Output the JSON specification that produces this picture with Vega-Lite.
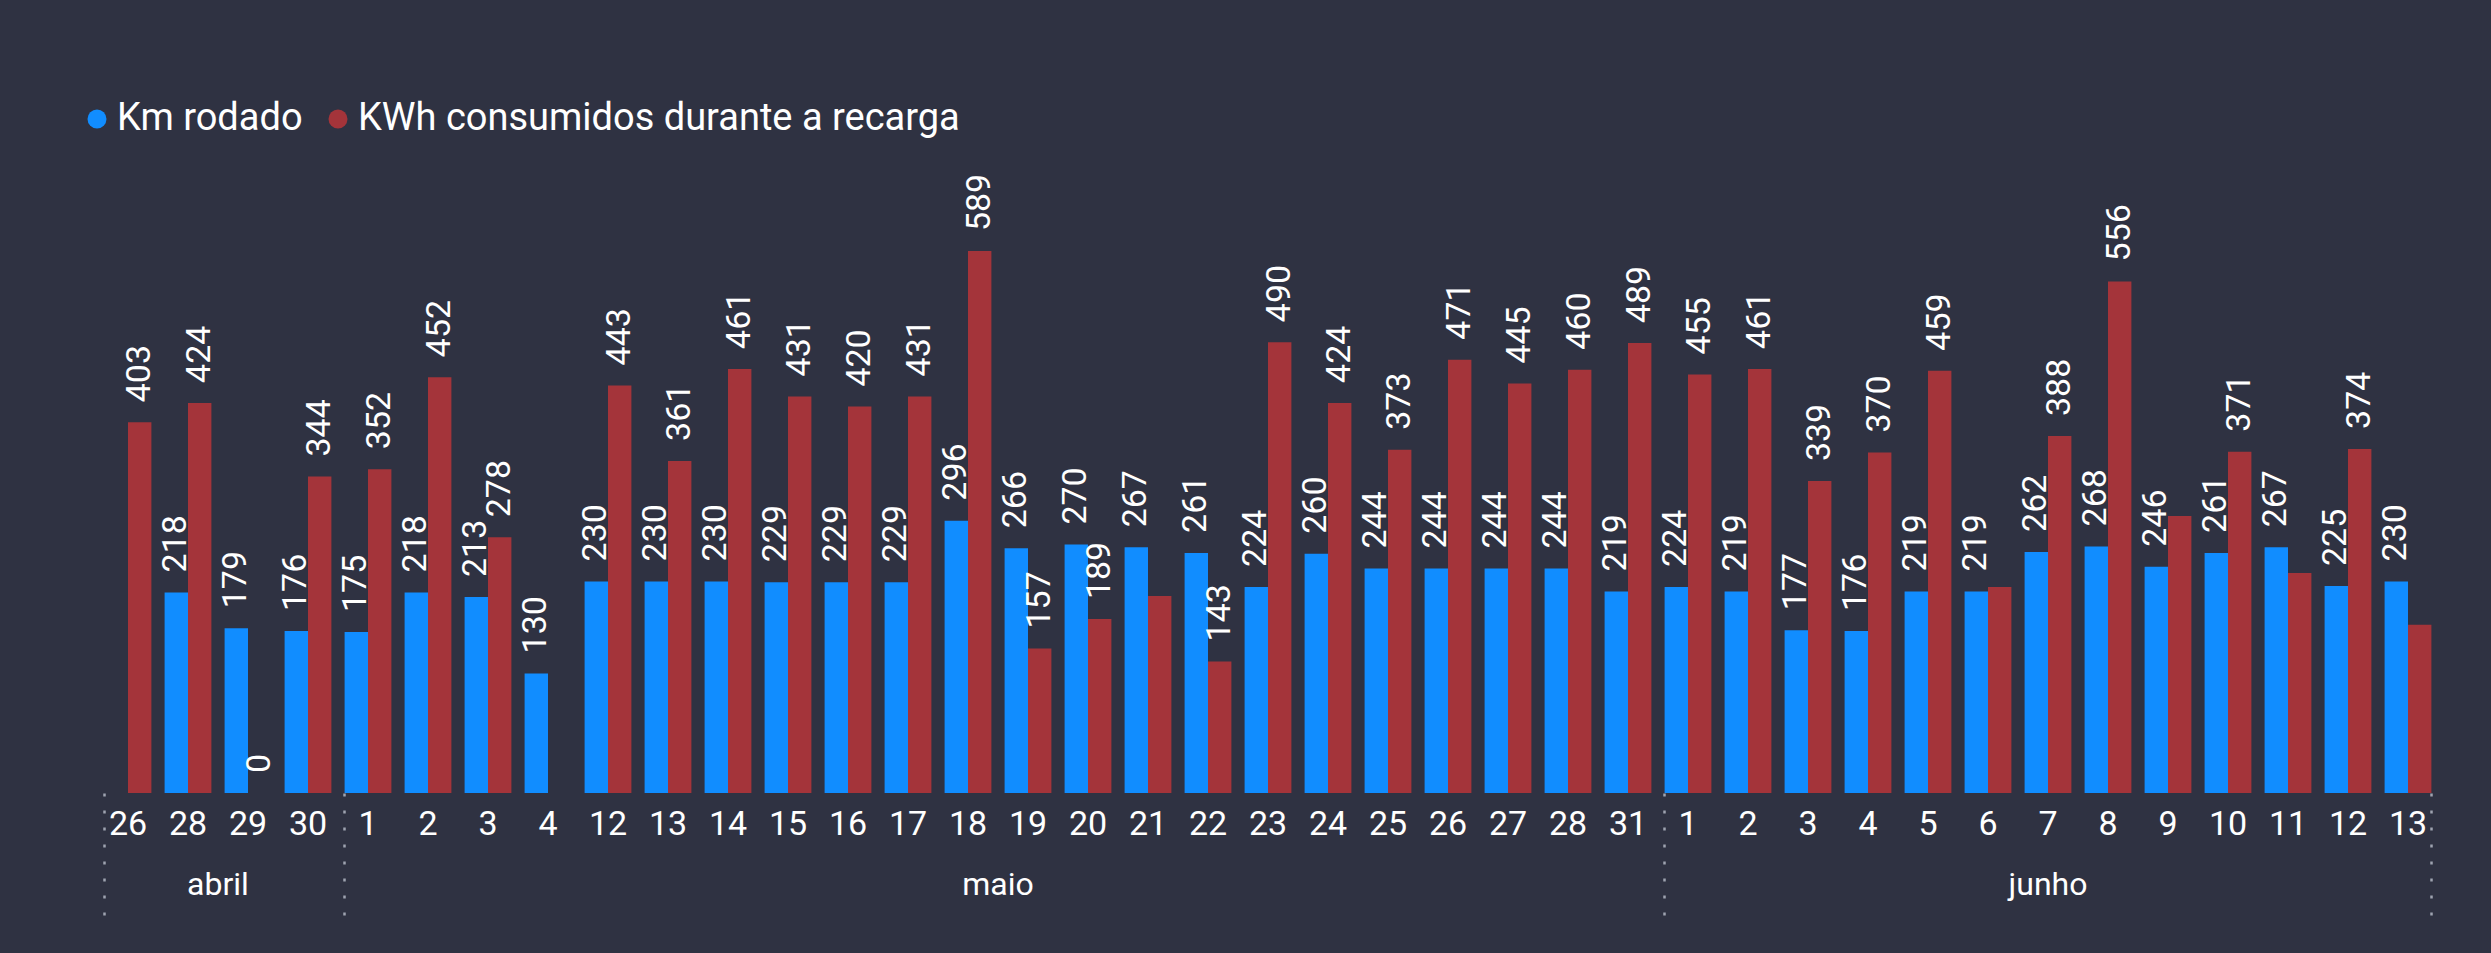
{
  "$schema": "https://vega.github.io/schema/vega-lite/v6.json",
  "width": 2340,
  "height": 598,
  "autosize": {"type": "none"},
  "padding": {"left": 98, "top": 195, "right": 53, "bottom": 160},
  "background": "#2f3242",
  "config": {"view": {"stroke": null}, "font": "Roboto"},
  "data": {
    "values": [
      {"data": "26/04", "mes": "abril", "km": null, "kwh": 403},
      {"data": "28/04", "mes": "abril", "km": 218, "kwh": 424},
      {"data": "29/04", "mes": "abril", "km": 179, "kwh": 0},
      {"data": "30/04", "mes": "abril", "km": 176, "kwh": 344},
      {"data": "1/05", "mes": "maio", "km": 175, "kwh": 352},
      {"data": "2/05", "mes": "maio", "km": 218, "kwh": 452},
      {"data": "3/05", "mes": "maio", "km": 213, "kwh": 278},
      {"data": "4/05", "mes": "maio", "km": 130, "kwh": null},
      {"data": "12/05", "mes": "maio", "km": 230, "kwh": 443},
      {"data": "13/05", "mes": "maio", "km": 230, "kwh": 361},
      {"data": "14/05", "mes": "maio", "km": 230, "kwh": 461},
      {"data": "15/05", "mes": "maio", "km": 229, "kwh": 431},
      {"data": "16/05", "mes": "maio", "km": 229, "kwh": 420},
      {"data": "17/05", "mes": "maio", "km": 229, "kwh": 431},
      {"data": "18/05", "mes": "maio", "km": 296, "kwh": 589},
      {"data": "19/05", "mes": "maio", "km": 266, "kwh": 157},
      {"data": "20/05", "mes": "maio", "km": 270, "kwh": 189},
      {"data": "21/05", "mes": "maio", "km": 267, "kwh": 214},
      {"data": "22/05", "mes": "maio", "km": 261, "kwh": 143},
      {"data": "23/05", "mes": "maio", "km": 224, "kwh": 490},
      {"data": "24/05", "mes": "maio", "km": 260, "kwh": 424},
      {"data": "25/05", "mes": "maio", "km": 244, "kwh": 373},
      {"data": "26/05", "mes": "maio", "km": 244, "kwh": 471},
      {"data": "27/05", "mes": "maio", "km": 244, "kwh": 445},
      {"data": "28/05", "mes": "maio", "km": 244, "kwh": 460},
      {"data": "31/05", "mes": "maio", "km": 219, "kwh": 489},
      {"data": "1/06", "mes": "junho", "km": 224, "kwh": 455},
      {"data": "2/06", "mes": "junho", "km": 219, "kwh": 461},
      {"data": "3/06", "mes": "junho", "km": 177, "kwh": 339},
      {"data": "4/06", "mes": "junho", "km": 176, "kwh": 370},
      {"data": "5/06", "mes": "junho", "km": 219, "kwh": 459},
      {"data": "6/06", "mes": "junho", "km": 219, "kwh": 224},
      {"data": "7/06", "mes": "junho", "km": 262, "kwh": 388},
      {"data": "8/06", "mes": "junho", "km": 268, "kwh": 556},
      {"data": "9/06", "mes": "junho", "km": 246, "kwh": 301},
      {"data": "10/06", "mes": "junho", "km": 261, "kwh": 371},
      {"data": "11/06", "mes": "junho", "km": 267, "kwh": 239},
      {"data": "12/06", "mes": "junho", "km": 225, "kwh": 374},
      {"data": "13/06", "mes": "junho", "km": 230, "kwh": 183}
    ]
  },
  "transform": [{"fold": ["km", "kwh"], "as": ["serie", "valor"]}],
  "encoding": {
    "xOffset": {"field": "serie", "type": "nominal", "sort": ["km", "kwh"]},
    "y": {"field": "valor", "type": "quantitative", "scale": {"domain": [0, 650]}, "axis": null}
  },
  "layer": [
    {
      "mark": {"type": "bar"},
      "encoding": {
        "x": {
          "field": "data", "type": "nominal", "sort": null,
          "scale": {"paddingInner": 0.22, "paddingOuter": 0.11},
          "axis": {
            "orient": "bottom", "title": null, "domain": false, "ticks": false,
            "labelAngle": 0, "labelExpr": "split(datum.label, '/')[0]",
            "labelFontSize": 34, "labelColor": "#ffffff", "labelPadding": 14,
            "labelOverlap": false, "labelFont": "Roboto"
          }
        },
        "color": {
          "field": "serie", "type": "nominal",
          "scale": {"domain": ["km", "kwh"], "range": ["#118dff", "#a4343a"]},
          "legend": {
            "orient": "none", "legendX": -20, "legendY": -95, "direction": "horizontal",
            "title": null, "symbolType": "circle", "symbolSize": 360, "symbolStrokeWidth": 0,
            "labelExpr": "datum.value == 'km' ? 'Km rodado' : 'KWh consumidos durante a recarga'",
            "labelFontSize": 38, "labelColor": "#ffffff", "labelFont": "Roboto",
            "labelOffset": 1, "columnPadding": 16, "labelLimit": 1000
          }
        }
      }
    },
    {
      "transform": [
        {"filter": "isValid(datum.valor)"},
        {"filter": "!(datum.serie == 'kwh' && indexof(['21/05', '6/06', '9/06', '11/06', '13/06'], datum.data) >= 0)"}
      ],
      "mark": {"type": "text", "angle": 270, "align": "left", "baseline": "middle", "dx": 20, "fontSize": 34, "color": "#ffffff", "font": "Roboto"},
      "encoding": {
        "x": {
          "field": "data", "type": "nominal", "sort": null,
          "axis": {
            "orient": "bottom", "title": null, "domain": false, "ticks": false,
            "values": ["29/04", "19/05", "7/06"],
            "labelExpr": "datum.value == '29/04' ? 'abril' : datum.value == '19/05' ? 'maio' : 'junho'",
            "labelOffset": {"condition": {"test": "datum.value == '7/06'", "value": 0}, "value": -30},
            "labelAngle": 0, "labelFontSize": 32, "labelColor": "#ffffff", "labelPadding": 76,
            "labelOverlap": false, "labelFont": "Roboto"
          }
        },
        "text": {"field": "valor", "type": "quantitative", "format": "d"}
      }
    },
    {
      "mark": {"type": "bar", "opacity": 0},
      "encoding": {
        "x": {
          "field": "data", "type": "nominal", "sort": null,
          "axis": {
            "orient": "bottom", "title": null, "domain": false, "labels": false,
            "values": ["26/04", "1/05", "1/06"], "bandPosition": 0,
            "ticks": true, "tickSize": 124, "tickDash": [3, 14], "tickWidth": 2.5, "tickColor": "#9ea3b0"
          }
        }
      }
    },
    {
      "mark": {"type": "bar", "opacity": 0},
      "encoding": {
        "x": {
          "field": "data", "type": "nominal", "sort": null,
          "axis": {
            "orient": "bottom", "title": null, "domain": false, "labels": false,
            "values": ["13/06"], "bandPosition": 1,
            "ticks": true, "tickSize": 124, "tickDash": [3, 14], "tickWidth": 2.5, "tickColor": "#9ea3b0"
          }
        }
      }
    }
  ],
  "resolve": {"axis": {"x": "independent"}}
}
